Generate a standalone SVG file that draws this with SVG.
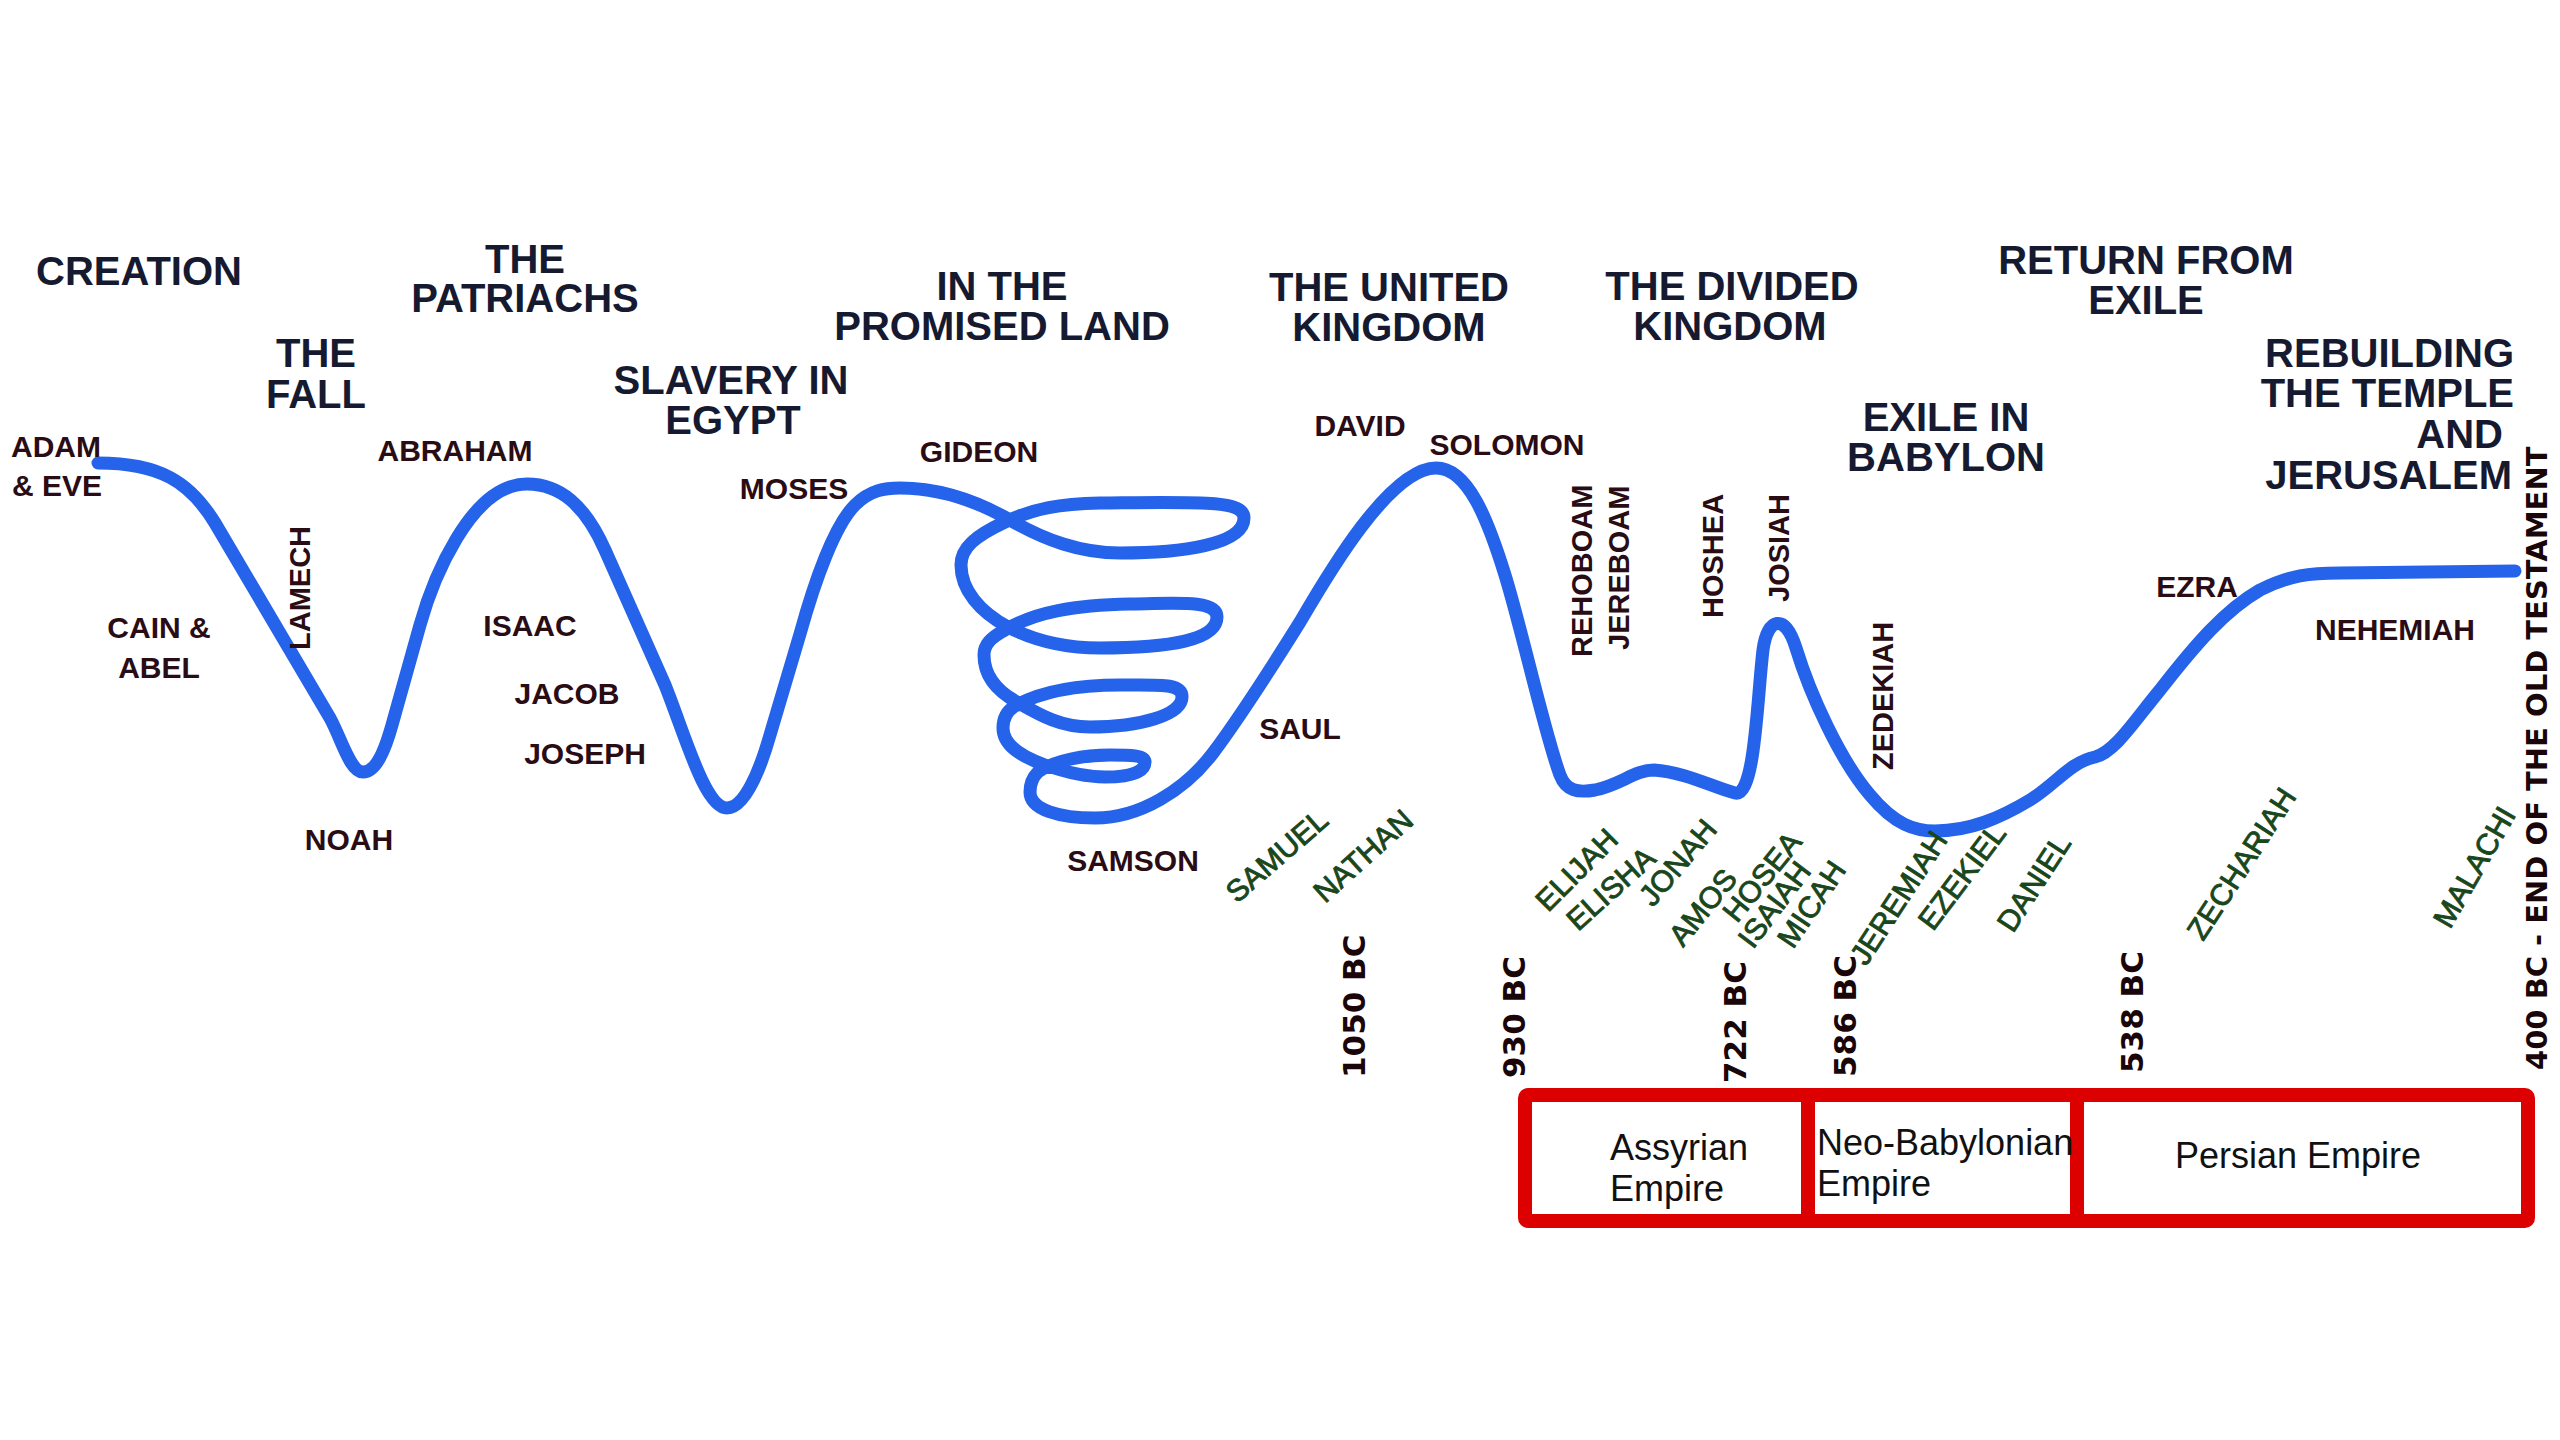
<svg xmlns="http://www.w3.org/2000/svg" width="2560" height="1440" viewBox="0 0 2560 1440">
<style>
.t{font-family:"Liberation Sans",Arial,sans-serif;font-weight:bold;font-size:40px;fill:#161a30;text-anchor:middle}
.tr{text-anchor:end}
.n{font-family:"Liberation Sans",Arial,sans-serif;font-weight:bold;font-size:30px;fill:#2a0c14;text-anchor:middle}
.v{font-family:"Liberation Sans",Arial,sans-serif;font-weight:bold;font-size:29px;fill:#2a0c14}
.p{font-family:"Liberation Sans",Arial,sans-serif;font-size:30px;fill:#1a461c;stroke:#1a461c;stroke-width:0.9px}
.d{font-family:"DejaVu Sans",sans-serif;font-weight:bold;font-size:31px;fill:#1a0609}
.e{font-family:"Liberation Sans",Arial,sans-serif;font-size:36px;fill:#111111}
.curve{fill:none;stroke:#2563eb;stroke-width:13;stroke-linecap:round;stroke-linejoin:round}
.box{fill:none;stroke:#dd0000;stroke-width:14}
</style>
<rect width="2560" height="1440" fill="#ffffff"/>

<g id="connectors">
<path class="curve" d="M 98,463 C 160,463 190,482 215,523 L 330,718 C 342,740 350,772 363,772 C 376,772 385,750 392,725 L 420,625 C 432,582 470,484 527,484 C 560,484 585,505 605,550 L 665,685 C 685,735 705,808 727,808 C 745,808 760,770 770,735 L 800,634 C 815,580 835,525 855,505 C 870,490 885,488 900,488 C 940,488 975,500 1010,520 C 1045,540 1080,553 1120,553 C 1180,553 1244,545 1244,518 C 1244,500 1200,502 1100,503 C 1060,504 1035,508 1005,522 C 975,536 961,548 961,565 C 961,590 980,612 1008,627 C 1035,641 1065,648 1100,648 C 1170,648 1217,640 1217,617 C 1217,600 1180,603 1130,604 C 1075,605 1035,612 1005,630 C 990,638 984,645 984,655 C 984,675 995,690 1017,702 C 1040,715 1060,727 1090,727 C 1140,727 1182,715 1182,697 C 1182,683 1160,685 1120,685 C 1075,685 1040,692 1015,706 C 1005,712 1003,720 1003,728 C 1003,745 1020,756 1045,765 C 1065,772 1085,777 1105,777 C 1130,777 1145,772 1145,762 C 1145,755 1130,755 1110,755 C 1085,755 1055,760 1038,772 C 1032,778 1030,785 1030,792 C 1030,810 1060,818 1095,818 C 1140,818 1185,790 1213,753 C 1240,717 1270,670 1300,622 C 1328,574 1390,468 1436,468 C 1468,468 1488,520 1505,575 C 1522,630 1545,735 1560,775 C 1566,791 1578,793 1595,790 C 1620,785 1635,770 1654,770 C 1685,772 1715,788 1735,793 C 1755,798 1757,700 1763,650 C 1767,618 1785,612 1796,648 C 1810,694 1840,760 1870,795 C 1895,825 1915,831 1935,831 C 1970,831 2000,818 2030,800 C 2055,785 2070,762 2095,757 C 2115,752 2135,720 2160,690 C 2195,645 2225,610 2260,590 C 2290,575 2310,573 2340,573 L 2515,571"/>
</g>

<g id="titles">
<text class="t" x="139" y="285">CREATION</text>
<g id="t-fall"><text class="t" x="316" y="367">THE</text><text class="t" x="316" y="408">FALL</text></g>
<g id="t-patriarchs"><text class="t" x="525" y="273">THE</text><text class="t" x="525" y="312">PATRIACHS</text></g>
<g id="t-slavery"><text class="t" x="731" y="394">SLAVERY IN</text><text class="t" x="733" y="434">EGYPT</text></g>
<g id="t-promised"><text class="t" x="1002" y="300">IN THE</text><text class="t" x="1002" y="340">PROMISED LAND</text></g>
<g id="t-united"><text class="t" x="1389" y="301">THE UNITED</text><text class="t" x="1389" y="341">KINGDOM</text></g>
<g id="t-divided"><text class="t" x="1732" y="300">THE DIVIDED</text><text class="t" x="1730" y="340">KINGDOM</text></g>
<g id="t-return"><text class="t" x="2146" y="274">RETURN FROM</text><text class="t" x="2146" y="314">EXILE</text></g>
<g id="t-exile"><text class="t" x="1946" y="431">EXILE IN</text><text class="t" x="1946" y="471">BABYLON</text></g>
<g id="t-rebuilding"><text class="t tr" x="2514" y="367">REBUILDING</text><text class="t tr" x="2514" y="407">THE TEMPLE</text><text class="t tr" x="2503" y="448">AND</text><text class="t tr" x="2512" y="489">JERUSALEM</text></g>
</g>

<g id="people">
<g id="n-adam"><text class="n" x="11" y="457" style="text-anchor:start">ADAM</text><text class="n" x="12" y="496" style="text-anchor:start">&amp; EVE</text></g>
<g id="n-cain"><text class="n" x="159" y="638">CAIN &amp;</text><text class="n" x="159" y="678">ABEL</text></g>
<text id="n-lamech" class="v" transform="translate(310 650) rotate(-90)">LAMECH</text>
<text id="n-noah" class="n" x="349" y="850">NOAH</text>
<text id="n-abraham" class="n" x="455" y="461">ABRAHAM</text>
<text id="n-isaac" class="n" x="530" y="636">ISAAC</text>
<text id="n-jacob" class="n" x="567" y="704">JACOB</text>
<text id="n-joseph" class="n" x="585" y="764">JOSEPH</text>
<text id="n-moses" class="n" x="794" y="499">MOSES</text>
<text id="n-gideon" class="n" x="979" y="462">GIDEON</text>
<text id="n-samson" class="n" x="1133" y="871">SAMSON</text>
<text id="n-saul" class="n" x="1300" y="739">SAUL</text>
<text id="n-david" class="n" x="1360" y="436">DAVID</text>
<text id="n-solomon" class="n" x="1507" y="455">SOLOMON</text>
<text id="n-rehoboam" class="v" transform="translate(1592 657) rotate(-90)">REHOBOAM</text>
<text id="n-jereboam" class="v" transform="translate(1629 650) rotate(-90)">JEREBOAM</text>
<text id="n-hoshea" class="v" transform="translate(1723 618) rotate(-90)">HOSHEA</text>
<text id="n-josiah" class="v" transform="translate(1789 602) rotate(-90)">JOSIAH</text>
<text id="n-zedekiah" class="v" transform="translate(1893 770) rotate(-90)">ZEDEKIAH</text>
<text id="n-ezra" class="n" x="2197" y="597">EZRA</text>
<text id="n-nehemiah" class="n" x="2395" y="640">NEHEMIAH</text>
</g>

<g id="prophets">
<text id="p-samuel" class="p" transform="translate(1237 904) rotate(-41)">SAMUEL</text>
<text id="p-nathan" class="p" transform="translate(1325 904) rotate(-42)">NATHAN</text>
<text id="p-elijah" class="p" transform="translate(1548 913) rotate(-45)">ELIJAH</text>
<text id="p-elisha" class="p" transform="translate(1578 932) rotate(-42)">ELISHA</text>
<text id="p-jonah" class="p" transform="translate(1653 908) rotate(-50)">JONAH</text>
<text id="p-amos" class="p" transform="translate(1683 948) rotate(-51)">AMOS</text>
<text id="p-hosea" class="p" transform="translate(1737 924) rotate(-51)">HOSEA</text>
<text id="p-isaiah" class="p" transform="translate(1753 950) rotate(-53)">ISAIAH</text>
<text id="p-micah" class="p" transform="translate(1793 950) rotate(-56)">MICAH</text>
<text id="p-jeremiah" class="p" transform="translate(1866 967) rotate(-57)">JEREMIAH</text>
<text id="p-ezekiel" class="p" transform="translate(1933 932) rotate(-53)">EZEKIEL</text>
<text id="p-daniel" class="p" transform="translate(2013 934) rotate(-57)">DANIEL</text>
<text id="p-zechariah" class="p" transform="translate(2203 942) rotate(-57)">ZECHARIAH</text>
<text id="p-malachi" class="p" transform="translate(2450 930) rotate(-60)">MALACHI</text>
</g>

<g id="dates">
<text class="d" transform="translate(1365 1078) rotate(-90)">1050 BC</text>
<text class="d" transform="translate(1525 1078) rotate(-90)">930 BC</text>
<text class="d" transform="translate(1746 1083) rotate(-90)">722 BC</text>
<text class="d" transform="translate(1856 1077) rotate(-90)">586 BC</text>
<text class="d" transform="translate(2143 1073) rotate(-90)">538 BC</text>
<text class="d" style="font-size:29px" transform="translate(2547 1070) rotate(-90)">400 BC - END OF THE OLD TESTAMENT</text>
</g>

<g id="empires">
<rect class="box" x="1525" y="1095" width="1003" height="126" rx="3"/>
<line class="box" x1="1808" y1="1095" x2="1808" y2="1221"/>
<line class="box" x1="2077" y1="1095" x2="2077" y2="1221"/>
<g id="e-assyrian"><text class="e" x="1610" y="1160">Assyrian</text><text class="e" x="1610" y="1201">Empire</text></g>
<g id="e-neobabylonian"><text class="e" x="1817" y="1155">Neo-Babylonian</text><text class="e" x="1817" y="1196">Empire</text></g>
<g id="e-persian"><text class="e" x="2298" y="1168" style="text-anchor:middle">Persian Empire</text></g>
</g>
</svg>
